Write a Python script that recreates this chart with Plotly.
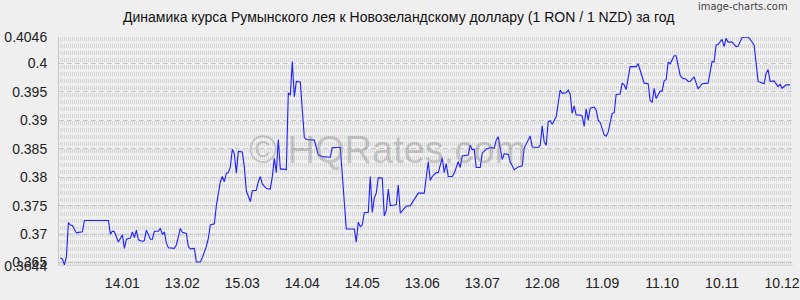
import plotly.graph_objects as go

title_text = "Динамика курса Румынского лея к Новозеландскому доллару (1 RON / 1 NZD) за год"

dates = [
    "2013-12-14", "2013-12-15", "2013-12-16", "2013-12-17", "2013-12-18", "2013-12-19",
    "2013-12-20", "2013-12-22", "2013-12-23", "2013-12-25", "2013-12-26",
    "2014-01-07", "2014-01-08", "2014-01-09", "2014-01-10", "2014-01-11", "2014-01-12",
    "2014-01-14", "2014-01-15", "2014-01-16", "2014-01-18", "2014-01-19", "2014-01-20",
    "2014-01-21", "2014-01-22", "2014-01-24", "2014-01-25", "2014-01-26", "2014-01-27",
    "2014-01-28", "2014-01-29", "2014-01-30", "2014-02-01", "2014-02-02", "2014-02-03",
    "2014-02-04", "2014-02-05", "2014-02-06", "2014-02-09", "2014-02-10", "2014-02-12",
    "2014-02-13", "2014-02-15", "2014-02-16", "2014-02-17", "2014-02-19", "2014-02-20",
    "2014-02-22", "2014-02-23", "2014-02-25", "2014-02-26", "2014-02-27", "2014-03-01",
    "2014-03-02", "2014-03-04", "2014-03-05", "2014-03-06", "2014-03-07", "2014-03-08",
    "2014-03-09", "2014-03-10", "2014-03-11", "2014-03-12", "2014-03-13", "2014-03-15",
    "2014-03-16", "2014-03-17", "2014-03-19", "2014-03-20", "2014-03-22", "2014-03-23",
    "2014-03-24", "2014-03-25", "2014-03-27", "2014-03-29", "2014-03-30", "2014-03-31",
    "2014-04-01", "2014-04-02", "2014-04-03", "2014-04-05", "2014-04-06", "2014-04-07",
    "2014-04-08", "2014-04-09", "2014-04-10", "2014-04-11", "2014-04-13", "2014-04-15",
    "2014-04-16", "2014-04-20", "2014-04-21", "2014-04-22", "2014-04-24", "2014-04-28",
    "2014-04-29", "2014-05-03", "2014-05-06", "2014-05-10", "2014-05-11", "2014-05-12",
    "2014-05-13", "2014-05-14", "2014-05-15", "2014-05-17", "2014-05-18", "2014-05-19",
    "2014-05-20", "2014-05-21", "2014-05-22", "2014-05-24", "2014-05-25", "2014-05-26",
    "2014-05-27", "2014-05-28", "2014-05-30", "2014-05-31", "2014-06-01", "2014-06-02",
    "2014-06-04", "2014-06-05", "2014-06-07", "2014-06-09", "2014-06-11", "2014-06-14",
    "2014-06-16", "2014-06-17", "2014-06-18", "2014-06-20", "2014-06-21", "2014-06-23",
    "2014-06-24", "2014-06-25", "2014-06-26", "2014-06-28", "2014-06-29", "2014-07-01",
    "2014-07-02", "2014-07-03", "2014-07-06", "2014-07-07", "2014-07-08", "2014-07-09",
    "2014-07-10", "2014-07-12", "2014-07-13", "2014-07-15", "2014-07-17", "2014-07-19",
    "2014-07-20", "2014-07-21", "2014-07-23", "2014-07-24", "2014-07-26", "2014-07-27",
    "2014-07-29", "2014-07-31", "2014-08-02", "2014-08-03", "2014-08-06", "2014-08-07",
    "2014-08-10", "2014-08-11", "2014-08-12", "2014-08-13", "2014-08-14", "2014-08-15",
    "2014-08-16", "2014-08-17", "2014-08-19", "2014-08-21", "2014-08-22", "2014-08-24",
    "2014-08-25", "2014-08-26", "2014-08-27", "2014-08-28", "2014-08-29", "2014-08-31",
    "2014-09-01", "2014-09-02", "2014-09-03", "2014-09-04", "2014-09-05", "2014-09-07",
    "2014-09-08", "2014-09-09", "2014-09-10", "2014-09-12", "2014-09-13", "2014-09-14",
    "2014-09-16", "2014-09-17", "2014-09-18", "2014-09-20", "2014-09-21", "2014-09-22",
    "2014-09-23", "2014-09-25", "2014-09-28", "2014-09-29", "2014-10-02", "2014-10-04",
    "2014-10-05", "2014-10-06", "2014-10-07", "2014-10-08", "2014-10-10", "2014-10-11",
    "2014-10-12", "2014-10-13", "2014-10-14", "2014-10-15", "2014-10-17", "2014-10-18",
    "2014-10-20", "2014-10-21", "2014-10-23", "2014-10-24", "2014-10-25", "2014-10-27",
    "2014-10-28", "2014-10-29", "2014-10-31", "2014-11-03", "2014-11-05", "2014-11-06",
    "2014-11-07", "2014-11-08", "2014-11-10", "2014-11-11", "2014-11-12", "2014-11-13",
    "2014-11-15", "2014-11-17", "2014-11-18", "2014-11-20", "2014-11-23", "2014-11-24",
    "2014-11-26", "2014-11-28", "2014-12-01", "2014-12-02", "2014-12-03", "2014-12-04",
    "2014-12-06", "2014-12-08", "2014-12-09", "2014-12-10", "2014-12-12", "2014-12-14",
]

rates = [
    0.3658, 0.3656, 0.3646, 0.3660, 0.3720, 0.3716,
    0.3715, 0.3702, 0.3703, 0.3704, 0.3724,
    0.3724, 0.3700, 0.3705, 0.3704, 0.3693, 0.3686,
    0.3699, 0.3675, 0.3691, 0.3693, 0.3704, 0.3694,
    0.3707, 0.3690, 0.3687, 0.3689, 0.3707, 0.3700,
    0.3691, 0.3691, 0.3705, 0.3705, 0.3710, 0.3699,
    0.3704, 0.3684, 0.3676, 0.3675, 0.3681, 0.3710,
    0.3703, 0.3701, 0.3678, 0.3674, 0.3675, 0.3651,
    0.3651, 0.3659, 0.3678, 0.3693, 0.3716, 0.3718,
    0.3750, 0.3792, 0.3801, 0.3792, 0.3807, 0.3808,
    0.3818, 0.3849, 0.3841, 0.3807, 0.3845, 0.3844,
    0.3818, 0.3776, 0.3757, 0.3776, 0.3777, 0.3792,
    0.3801, 0.3788, 0.3780, 0.3779, 0.3801, 0.3833,
    0.3808, 0.3866, 0.3814, 0.3814, 0.3813, 0.3948,
    0.3944, 0.4003, 0.3941, 0.3968, 0.3967, 0.3870,
    0.3866, 0.3865, 0.3853, 0.3839, 0.3836, 0.3835,
    0.3852, 0.3852, 0.3709, 0.3709, 0.3686, 0.3721,
    0.3713, 0.3716, 0.3738, 0.3738, 0.3801, 0.3738,
    0.3763, 0.3772, 0.3799, 0.3798, 0.3732, 0.3741,
    0.3779, 0.3750, 0.3751, 0.3752, 0.3786, 0.3737,
    0.3745, 0.3749, 0.3750, 0.3760, 0.3772, 0.3772,
    0.3827, 0.3794, 0.3801, 0.3808, 0.3808, 0.3834,
    0.3808, 0.3824, 0.3801, 0.3801, 0.3807, 0.3827,
    0.3817, 0.3837, 0.3839, 0.3856, 0.3848, 0.3849,
    0.3817, 0.3817, 0.3842, 0.3849, 0.3852, 0.3851,
    0.3865, 0.3871, 0.3831, 0.3841, 0.3840, 0.3827,
    0.3813, 0.3818, 0.3820, 0.3851, 0.3872, 0.3853,
    0.3852, 0.3856, 0.3890, 0.3862, 0.3856, 0.3897,
    0.3899, 0.3893, 0.3906, 0.3953, 0.3947, 0.3948,
    0.3953, 0.3946, 0.3912, 0.3925, 0.3909, 0.3909,
    0.3907, 0.3889, 0.3920, 0.3900, 0.3921, 0.3923,
    0.3918, 0.3900, 0.3896, 0.3874, 0.3872, 0.3879,
    0.3912, 0.3913, 0.3945, 0.3946, 0.3965, 0.3962,
    0.3954, 0.3994, 0.3994, 0.3999, 0.3965, 0.3964,
    0.3935, 0.3931, 0.3956, 0.3938, 0.3951, 0.3951,
    0.3969, 0.3971, 0.4002, 0.3999, 0.4013, 0.4013,
    0.3979, 0.3974, 0.3972, 0.3968, 0.3968, 0.3976,
    0.3967, 0.3955, 0.3964, 0.3965, 0.4003, 0.4002,
    0.4032, 0.4033, 0.4042, 0.4029, 0.4044, 0.4037,
    0.4037, 0.4029, 0.4030, 0.4045, 0.4046, 0.4042,
    0.4032, 0.3968, 0.3964, 0.3982, 0.3989, 0.3968,
    0.3969, 0.3959, 0.3963, 0.3956, 0.3962, 0.3962,
]

x_tick_dates = [
    "2014-01-14", "2014-02-13", "2014-03-15", "2014-04-14", "2014-05-14", "2014-06-13",
    "2014-07-13", "2014-08-12", "2014-09-11", "2014-10-11", "2014-11-10", "2014-12-10",
]
x_tick_labels = ["14.01", "13.02", "15.03", "14.04", "14.05", "13.06",
                 "13.07", "12.08", "11.09", "11.10", "10.11", "10.12"]

y_ticks = [0.3644, 0.365, 0.37, 0.375, 0.38, 0.385, 0.39, 0.395, 0.4, 0.4046]
y_labels = ["0.3644", "0.365", "0.37", "0.375", "0.38", "0.385", "0.39", "0.395", "0.4", "0.4046"]

BG = "#efefef"
FONT = "Liberation Sans, Arial, sans-serif"

fig = go.Figure()
fig.add_trace(go.Scatter(
    x=dates, y=rates, mode="lines",
    line=dict(color="#1f1fff", width=1.1),
    hoverinfo="x+y", showlegend=False,
))

fig.update_layout(
    width=800, height=300,
    margin=dict(l=59, r=0, t=37, b=34),
    paper_bgcolor=BG, plot_bgcolor=BG,
    font=dict(family=FONT, size=14, color="#222222"),
    showlegend=False,
    xaxis=dict(
        type="date",
        range=["2013-12-13 07:00", "2014-12-15 11:00"],
        tickmode="array", tickvals=x_tick_dates, ticktext=x_tick_labels,
        ticks="outside", ticklen=4, tickcolor=BG,
        ticklabeloverflow="allow",
        showgrid=False,
        showline=False,
        zeroline=False,
        tickfont=dict(size=14, color="#222222"),
        minor=dict(
            dtick=86400000, tick0="2013-12-14",
            showgrid=True, gridcolor="#d6d6d6", gridwidth=1,
            griddash="4px,3px",
        ),
    ),
    yaxis=dict(
        range=[0.3644, 0.4046],
        tickmode="array", tickvals=y_ticks, ticktext=y_labels,
        ticks="outside", ticklen=8, tickcolor=BG,
        showgrid=True, gridcolor="#c8c8c8", gridwidth=1, griddash="5px,3px",
        showline=True, linecolor="#c8c8c8", linewidth=1,
        zeroline=False,
        tickfont=dict(size=14, color="#222222"),
    ),
    annotations=[
        dict(text=title_text, xref="paper", yref="paper", x=0.462, y=1.0,
             yshift=20, xanchor="center", yanchor="middle", showarrow=False,
             font=dict(size=14, color="#111111", family=FONT)),
        dict(text="image-charts.com", xref="paper", yref="paper", x=1.0, y=1.0,
             xshift=-3, yshift=31, xanchor="right", yanchor="middle", showarrow=False,
             font=dict(size=11, color="#444444", family="DejaVu Sans Condensed, Liberation Sans Narrow, sans-serif")),
        dict(text="© HQRates.com", xref="paper", yref="paper", x=0.448, y=0.507,
             xanchor="center", yanchor="middle", showarrow=False,
             font=dict(size=38, color="rgba(120,120,120,0.35)", family=FONT)),
    ],
)
fig.add_shape(type="line", xref="paper", yref="y", x0=0, x1=1, y0=0.3644, y1=0.3644,
              line=dict(color="#bbbbbb", width=1))

fig.write_html("out.html")
